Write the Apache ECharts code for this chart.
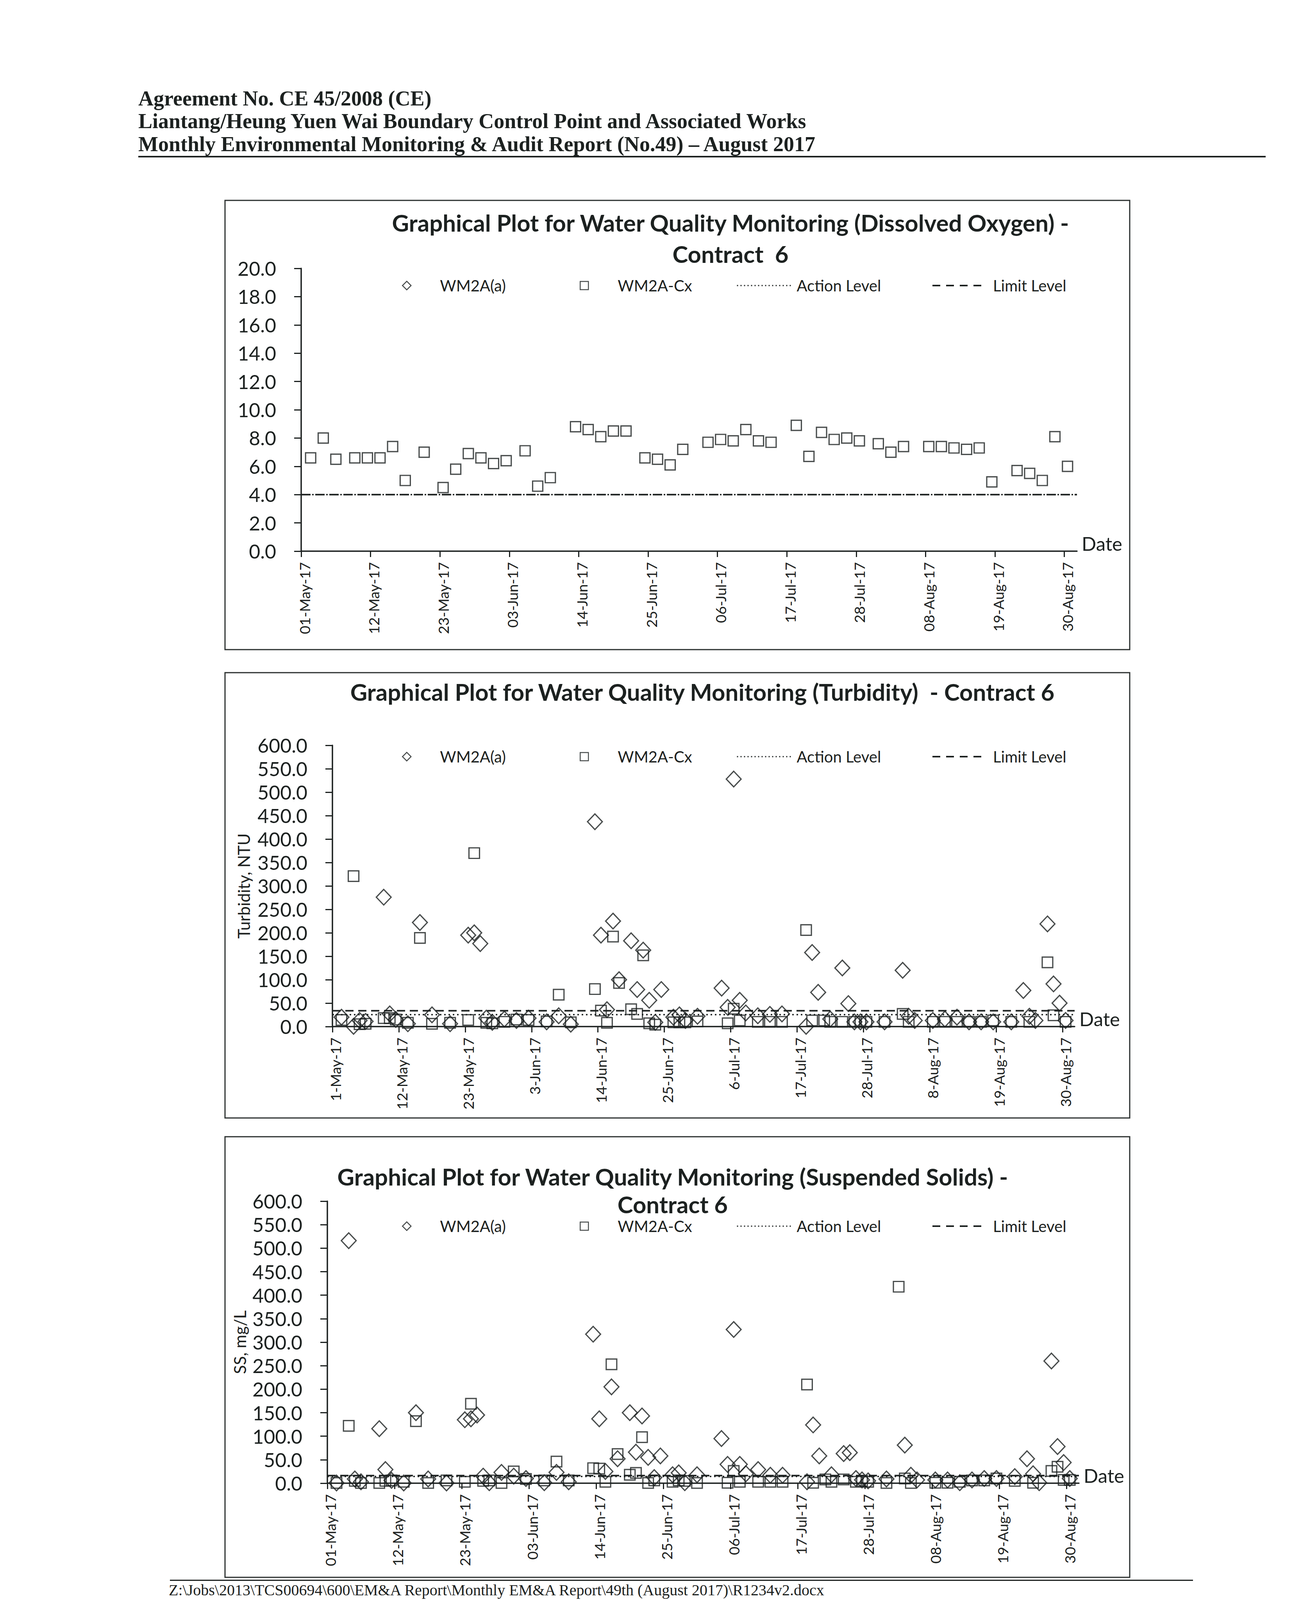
<!DOCTYPE html>
<html>
<head>
<meta charset="utf-8">
<script src="https://cdn.jsdelivr.net/npm/echarts@6/dist/echarts.min.js"></script>
<style>
html,body{margin:0;padding:0;background:#fff;}
#page{position:relative;width:3310px;height:4680px;overflow:hidden;background:#fff;}
#chart{position:absolute;left:0;top:0;width:3310px;height:4680px;}
.hdr{position:absolute;left:354px;font-family:"Liberation Serif","Times New Roman",serif;font-weight:bold;font-size:54px;line-height:54px;color:#1c2120;white-space:nowrap;z-index:2;}
#ftr{position:absolute;left:432px;top:4448px;font-family:"Liberation Serif","Times New Roman",serif;font-size:43px;line-height:43px;color:#1c2120;white-space:nowrap;z-index:2;}
.rule{position:absolute;background:#1c2120;z-index:2;}
</style>
</head>
<body>
<div id="page">
  <div id="chart"></div>
  <div class="hdr" style="top:225px">Agreement No. CE 45/2008 (CE)</div>
  <div class="hdr" style="top:283px">Liantang/Heung Yuen Wai Boundary Control Point and Associated Works</div>
  <div class="hdr" style="top:342px">Monthly Environmental Monitoring &amp; Audit Report (No.49) – August 2017</div>
  <div class="rule" style="left:354px;top:399px;width:2886px;height:4px"></div>
  <div class="rule" id="ftrRule" style="left:435px;top:4430px;width:2619px;height:3px"></div>
  <div id="ftr">Z:\Jobs\2013\TCS00694\600\EM&amp;A Report\Monthly EM&amp;A Report\49th (August 2017)\R1234v2.docx</div>
</div>
<script>
// ---------------- DATA ----------------
const seriesNames = ['WM2A(a)', 'WM2A-Cx', 'Action Level', 'Limit Level'];
const xTickLabelsA = ['01-May-17','12-May-17','23-May-17','03-Jun-17','14-Jun-17','25-Jun-17','06-Jul-17','17-Jul-17','28-Jul-17','08-Aug-17','19-Aug-17','30-Aug-17'];
const xTickLabelsB = ['1-May-17','12-May-17','23-May-17','3-Jun-17','14-Jun-17','25-Jun-17','6-Jul-17','17-Jul-17','28-Jul-17','8-Aug-17','19-Aug-17','30-Aug-17'];
const doYTicks = [0,2,4,6,8,10,12,14,16,18,20];
const ntuYTicks = [0,50,100,150,200,250,300,350,400,450,500,550,600];

// Dissolved oxygen (mg/L)
const doADates = [];
const doAValues = [];
const doCxDates = ['05-02','05-04','05-06','05-09','05-11','05-13','05-15','05-17','05-20','05-23','05-25','05-27','05-29','05-31',
  '06-02','06-05','06-07','06-09','06-13','06-15','06-17','06-19','06-21','06-24','06-26','06-28','06-30',
  '07-04','07-06','07-08','07-10','07-12','07-14','07-18','07-20','07-22','07-24','07-26','07-28','07-31',
  '08-02','08-04','08-08','08-10','08-12','08-14','08-16','08-18','08-22','08-24','08-26','08-28','08-30'];
const doCxValues = [6.6,8.0,6.5,6.6,6.6,6.6,7.4,5.0,7.0,4.5,5.8,6.9,6.6,6.2,
  6.4,7.1,4.6,5.2,8.8,8.6,8.1,8.5,8.5,6.6,6.5,6.1,7.2,
  7.7,7.9,7.8,8.6,7.8,7.7,8.9,6.7,8.4,7.9,8.0,7.8,7.6,
  7.0,7.4,7.4,7.4,7.3,7.2,7.3,4.9,5.7,5.5,5.0,8.1,6.0];
const doActionLevel = 4.0;
const doLimitLevel = 4.0;

// WM2A(a) sampling dates (turbidity & suspended solids)
const aDates = ['05-02','05-04','05-05','05-06','05-09','05-10','05-11','05-13','05-15','05-17','05-20','05-23','05-24','05-25','05-26','05-27','05-29','05-31',
  '06-02','06-05','06-07','06-09','06-13','06-14','06-15','06-16','06-17','06-19','06-20','06-21','06-22','06-23','06-24','06-26','06-27','06-28','06-30',
  '07-04','07-05','07-06','07-07','07-08','07-10','07-12','07-14','07-18','07-19','07-20','07-22','07-24','07-25','07-26','07-27','07-28','07-31',
  '08-03','08-04','08-05','08-08','08-10','08-12','08-14','08-16','08-18','08-21','08-23','08-24','08-25','08-27','08-28','08-29','08-30'];

// Turbidity (NTU)
const turbAValues = [20,0.5,13,11,276,27,15,6,222,25,6,195,200,177,18,9,16,13,
  18,10,23,5,437,195,36,225,100,183,79,163,56,9,79,20,25,13,22,
  82,41,528,56,29,23,26,27,0.5,158,73,16,125,49,10,10,10,10,
  120,22,13,13,16,20,10,10,10,10,77,22,13,219,91,50,13];
const turbCxDates = ['05-02','05-04','05-05','05-06','05-09','05-10','05-11','05-13','05-15','05-17','05-20','05-23','05-24','05-26','05-27','05-29','05-31',
  '06-02','06-05','06-07','06-09','06-13','06-14','06-15','06-16','06-17','06-19','06-20','06-21','06-22','06-23','06-26','06-27','06-28','06-30',
  '07-05','07-06','07-07','07-10','07-12','07-14','07-18','07-19','07-21','07-22','07-24','07-26','07-27','07-28','07-31',
  '08-03','08-04','08-08','08-10','08-12','08-14','08-16','08-18','08-21','08-24','08-27','08-28','08-30'];
const turbCxValues = [14,321,5,6,18,18,15,8,189,6,8,14,370,8,7,10,15,
  14,11,68,9,80,34,8,192,93,37,27,152,7,4,9,9,9,11,
  7,38,13,10,10,10,206,13,13,10,10,10,10,10,10,
  27,10,10,10,10,10,10,13,10,10,137,24,10];
const turbActionLevel = 25.4;
const turbLimitLevel = 33.8;

// Suspended solids (mg/L)
const ssAValues = [0.5,516,9,3,116,29,6,0.5,150,9,0.5,135,137,145,15,1,23,15,
  10,1,23,3,317,137,25,205,52,150,66,143,55,12,58,18,22,1,18,
  95,40,327,40,20,29,17,17,3,124,58,18,63,65,10,7,5,9,
  81,17,7,7,7,1,7,10,10,14,52,20,1,260,78,44,10];
const ssCxDates = ['05-02','05-04','05-05','05-06','05-09','05-10','05-11','05-13','05-15','05-17','05-20','05-23','05-24','05-26','05-27','05-29','05-31',
  '06-02','06-05','06-07','06-09','06-13','06-14','06-15','06-16','06-17','06-19','06-20','06-21','06-22','06-23','06-26','06-27','06-28','06-30',
  '07-05','07-06','07-07','07-10','07-12','07-14','07-18','07-19','07-21','07-22','07-24','07-26','07-27','07-28','07-31',
  '08-02','08-03','08-04','08-08','08-10','08-12','08-14','08-16','08-18','08-21','08-24','08-27','08-28','08-29','08-30'];
const ssCxValues = [0.5,122,5,0.5,0.5,5,6,3,132,0.5,6,3,169,5,6,0.5,25,
  9,6,46,6,32,31,3,253,62,18,22,98,0.5,6,3,6,5,0.5,
  1,26,3,3,3,3,210,1,8,3,8,3,5,3,0.5,
  418,10,0.5,1,1,3,6,6,10,5,1,26,35,7,7];
const ssActionLevel = 14.3;
const ssLimitLevel = 16.3;

// ---------------- BUILD ----------------
const INK = '#1c2120';
const FONT = 'Lato';
const AXIS_START = Date.UTC(2017, 4, 1);
const X_MAX_DAYS = 123;
const TICK_STEP = 11;

// If the viewport is shorter than the page, keep the footer visible just below the last chart
const VH = window.innerHeight || 4680;
const TIGHT = VH < 4560;
let frame3Height = 1146;
if (TIGHT) {
  frame3Height = Math.min(1146, VH - 58 - 2910);
  const rule = document.getElementById('ftrRule');
  rule.style.top = (VH - 52) + 'px';
  const ftr = document.getElementById('ftr');
  ftr.style.top = (VH - 45) + 'px';
  ftr.style.fontSize = '40px';
  ftr.style.lineHeight = '40px';
}

// Excel date axis places each date in the middle of its day slot
function toDay(md) {
  const p = md.split('-').map(Number);
  return (Date.UTC(2017, p[0] - 1, p[1]) - AXIS_START) / 86400000 + 0.5;
}
function pairs(dates, values) { return dates.map((d, i) => [toDay(d), values[i]]); }

const charts = [
  { grid: {left: 771, top: 687, width: 1986, height: 724}, yTicks: doYTicks, yName: '', yNameGap: 0,
    labels: xTickLabelsA,
    title: 'Graphical Plot for Water Quality Monitoring (Dissolved Oxygen) -\nContract  6', titleX: 1870, titleTop: 530, titleLH: 80,
    legendTop: 711,
    a: pairs(doADates, doAValues), cx: pairs(doCxDates, doCxValues), action: doActionLevel, limit: doLimitLevel,
    actionType: [4, 32], actionOffset: -28, limitType: [24, 12],
    sq: 26, dm: [36, 38], frame: [576, 513, 2316, 1150] },
  { grid: {left: 851, top: 1908, width: 1900, height: 720}, yTicks: ntuYTicks, yName: 'Turbidity, NTU', yNameGap: 206,
    labels: xTickLabelsB,
    title: 'Graphical Plot for Water Quality Monitoring (Turbidity)  - Contract 6', titleX: 1798, titleTop: 1730, titleLH: 82,
    legendTop: 1917,
    a: pairs(aDates, turbAValues), cx: pairs(turbCxDates, turbCxValues), action: turbActionLevel, limit: turbLimitLevel,
    actionType: [4, 7], actionOffset: 0, limitType: [21, 12],
    sq: 27, dm: [38, 40], frame: [576, 1722, 2316, 1140] },
  { grid: {left: 838, top: 3075, width: 1924, height: 722}, yTicks: ntuYTicks, yName: 'SS, mg/L', yNameGap: 203,
    labels: xTickLabelsA,
    title: 'Graphical Plot for Water Quality Monitoring (Suspended Solids) -\nContract 6', titleX: 1722, titleTop: 2976, titleLH: 71,
    legendTop: 3119,
    a: pairs(aDates, ssAValues), cx: pairs(ssCxDates, ssCxValues), action: ssActionLevel, limit: ssLimitLevel,
    actionType: [4, 7], actionOffset: 0, limitType: [21, 12],
    sq: 27, dm: [38, 40], frame: [576, 2910, 2316, frame3Height] }
];

const option = {
  backgroundColor: '#fff',
  animation: false,
  textStyle: {fontFamily: FONT, color: INK},
  title: [], grid: [], xAxis: [], yAxis: [], series: [], legend: [], graphic: []
};

const tickVals = xTickLabelsA.map((_, i) => i * TICK_STEP);
const labelVals = tickVals.map(v => v + 0.5);

charts.forEach((c, gi) => {
  option.title.push({
    text: c.title, left: c.titleX, top: c.titleTop, textAlign: 'center', padding: 0,
    textStyle: {fontFamily: FONT, fontWeight: 'bold', fontSize: 60, lineHeight: c.titleLH, color: INK}
  });
  option.grid.push(Object.assign({outerBoundsMode: 'none', containLabel: false}, c.grid));
  const labels = c.labels;
  option.xAxis.push({
    type: 'value', gridIndex: gi, min: 0, max: X_MAX_DAYS,
    name: 'Date', nameLocation: 'end', nameGap: 12, nameMoveOverlap: false,
    nameTextStyle: {fontFamily: FONT, fontSize: 49, color: INK, verticalAlign: 'bottom', lineHeight: 40, align: 'left'},
    axisLine: {show: true, onZero: true, lineStyle: {color: INK, width: 3.5}},
    axisTick: {show: true, inside: false, length: 15, customValues: tickVals, lineStyle: {color: INK, width: 3}},
    axisLabel: {show: true, rotate: 90, margin: 28, customValues: labelVals, fontFamily: FONT, fontSize: 37, color: INK,
      formatter: v => labels[Math.round((v - 0.5) / TICK_STEP)] || ''},
    splitLine: {show: false}
  });
  const yt = c.yTicks;
  option.yAxis.push({
    type: 'value', gridIndex: gi, min: yt[0], max: yt[yt.length - 1], interval: yt[1] - yt[0],
    name: c.yName, nameLocation: 'middle', nameGap: c.yNameGap, nameRotate: 90,
    nameTextStyle: {fontFamily: FONT, fontSize: 42, color: INK},
    axisLine: {show: true, lineStyle: {color: INK, width: 3.5}},
    axisTick: {show: true, inside: false, length: 18, lineStyle: {color: INK, width: 3}},
    axisLabel: {show: true, margin: 64, fontFamily: FONT, fontSize: 50, color: INK, formatter: v => v.toFixed(1)},
    splitLine: {show: false}
  });
  option.series.push({
    name: seriesNames[0], type: 'scatter', xAxisIndex: gi, yAxisIndex: gi, data: c.a,
    symbol: 'diamond', symbolSize: c.dm, z: 3,
    itemStyle: {color: 'rgba(0,0,0,0)', borderColor: INK, borderWidth: 3.2}
  });
  option.series.push({
    name: seriesNames[1], type: 'scatter', xAxisIndex: gi, yAxisIndex: gi, data: c.cx,
    symbol: 'rect', symbolSize: c.sq, z: 3,
    itemStyle: {color: 'rgba(0,0,0,0)', borderColor: INK, borderWidth: 3.2}
  });
  option.series.push({
    name: seriesNames[2], type: 'line', xAxisIndex: gi, yAxisIndex: gi, symbol: 'none', z: 2,
    data: [[0, c.action], [X_MAX_DAYS, c.action]],
    lineStyle: {color: INK, width: 3.5, type: c.actionType, dashOffset: c.actionOffset}
  });
  option.series.push({
    name: seriesNames[3], type: 'line', xAxisIndex: gi, yAxisIndex: gi, symbol: 'none', z: 2,
    data: [[0, c.limit], [X_MAX_DAYS, c.limit]],
    lineStyle: {color: INK, width: 4, type: c.limitType}
  });
  const legendText = p => ({fontFamily: FONT, fontSize: 40, lineHeight: 30, color: INK, padding: [0, 0, 0, p]});
  option.legend.push({
    left: 1029, top: c.legendTop, padding: 0, itemGap: 0, itemWidth: 22, itemHeight: 22, selectedMode: false,
    data: [{name: seriesNames[0], icon: 'diamond'}],
    itemStyle: {color: 'rgba(0,0,0,0)', borderColor: INK, borderWidth: 2.5},
    textStyle: legendText(69)
  });
  option.legend.push({
    left: 1484, top: c.legendTop, padding: 0, itemGap: 0, itemWidth: 21, itemHeight: 21, selectedMode: false,
    data: [{name: seriesNames[1], icon: 'rect'}],
    itemStyle: {color: 'rgba(0,0,0,0)', borderColor: INK, borderWidth: 2.5},
    textStyle: legendText(70)
  });
  option.legend.push({
    left: 1885, top: c.legendTop, padding: 0, itemGap: 0, itemWidth: 138, itemHeight: 14, selectedMode: false,
    data: [seriesNames[2]],
    itemStyle: {color: 'rgba(0,0,0,0)', borderColor: 'rgba(0,0,0,0)', borderWidth: 0},
    lineStyle: {width: 3, type: [3, 6], dashOffset: 0},
    textStyle: legendText(10)
  });
  option.legend.push({
    left: 2385, top: c.legendTop, padding: 0, itemGap: 0, itemWidth: 127, itemHeight: 14, selectedMode: false,
    data: [seriesNames[3]],
    itemStyle: {color: 'rgba(0,0,0,0)', borderColor: 'rgba(0,0,0,0)', borderWidth: 0},
    lineStyle: {width: 4, type: [20, 15]},
    textStyle: legendText(23)
  });
  const f = c.frame;
  option.graphic.push({
    type: 'rect', silent: true, z: 0,
    shape: {x: f[0], y: f[1], width: f[2], height: f[3]},
    style: {fill: 'none', stroke: '#2a2f2e', lineWidth: 3}
  });
});

const chart = echarts.init(document.getElementById('chart'), null, {renderer: 'svg', width: 3310, height: 4680});
chart.setOption(option);
</script>
</body>
</html>
